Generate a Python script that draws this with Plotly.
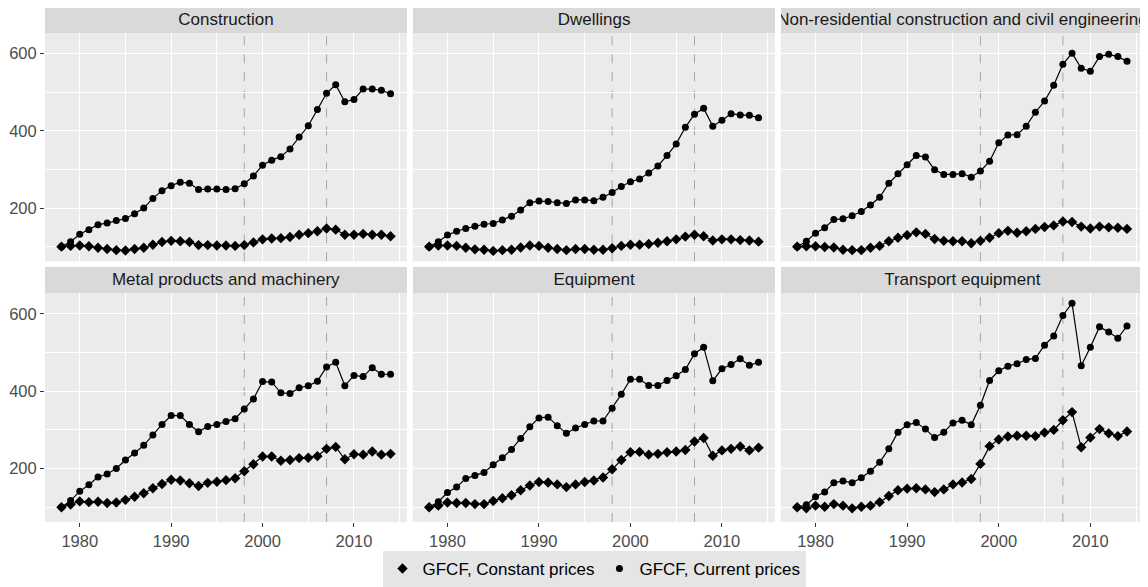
import plotly.graph_objects as go

years = list(range(1978, 2015))
panel_titles = [
    "Construction",
    "Dwellings",
    "Non-residential construction and civil engineering",
    "Metal products and machinery",
    "Equipment",
    "Transport equipment",
]

construction_current = [100, 113, 132, 144, 157, 161, 168, 173, 185, 200, 225, 245, 258, 267, 264, 248, 249, 249, 248, 250,
                        263, 283, 311, 324, 333, 353, 384, 413, 455, 497, 519, 475, 481, 508, 508, 505, 496]
construction_constant = [100, 102, 103, 101, 97, 94, 91, 90, 94, 97, 105, 112, 115, 114, 112, 104, 104, 103, 103, 102,
                         104, 111, 119, 121, 122, 125, 131, 135, 140, 147, 144, 131, 131, 133, 131, 131, 127]

dwellings_current = [100, 113, 130, 140, 147, 153, 158, 160, 169, 179, 195, 214, 218, 217, 214, 212, 221, 221, 219, 228,
                     240, 256, 268, 275, 291, 309, 336, 366, 409, 443, 458, 412, 427, 444, 441, 440, 434]
dwellings_constant = [100, 103, 103, 102, 97, 93, 92, 89, 91, 92, 98, 103, 102, 97, 94, 91, 94, 94, 92, 92,
                      96, 102, 105, 105, 107, 110, 114, 119, 126, 131, 127, 116, 119, 119, 117, 116, 113]

nonres_current = [100, 114, 135, 149, 170, 172, 180, 191, 208, 228, 264, 289, 312, 336, 332, 299, 287, 287, 289, 280,
                  296, 321, 369, 389, 390, 412, 448, 477, 518, 572, 601, 562, 554, 592, 598, 592, 580]
nonres_constant = [100, 101, 101, 99, 98, 92, 91, 91, 97, 102, 114, 123, 130, 137, 133, 120, 115, 114, 114, 109,
                   115, 123, 135, 141, 136, 140, 146, 151, 155, 165, 164, 152, 147, 152, 150, 149, 146]

metal_current = [100, 117, 141, 158, 178, 186, 200, 222, 240, 260, 287, 314, 337, 337, 314, 295, 309, 314, 322, 329,
                 354, 380, 425, 424, 396, 394, 409, 414, 426, 463, 475, 414, 441, 438, 461, 444, 444]
metal_constant = [100, 107, 115, 113, 114, 111, 112, 119, 127, 136, 149, 160, 171, 169, 162, 155, 163, 166, 170, 175,
                  193, 211, 231, 231, 220, 222, 227, 228, 232, 251, 256, 224, 237, 236, 244, 236, 238]

equipment_current = [100, 114, 138, 152, 174, 182, 190, 210, 228, 249, 278, 308, 331, 333, 311, 291, 305, 314, 323, 323,
                     356, 392, 431, 431, 415, 415, 428, 440, 456, 497, 514, 427, 458, 469, 484, 467, 475]
equipment_constant = [100, 104, 112, 111, 111, 108, 108, 116, 123, 131, 144, 156, 165, 164, 159, 152, 159, 165, 169, 177,
                      198, 222, 242, 243, 236, 238, 242, 244, 248, 270, 279, 233, 247, 251, 257, 247, 254]

transport_current = [100, 106, 127, 139, 163, 168, 163, 176, 193, 216, 251, 294, 313, 319, 302, 280, 294, 318, 325, 313,
                     364, 428, 453, 465, 471, 482, 485, 519, 543, 596, 628, 466, 514, 567, 553, 537, 569]
transport_constant = [100, 97, 104, 101, 108, 104, 97, 101, 104, 113, 129, 144, 148, 149, 146, 139, 146, 159, 164, 173,
                      212, 258, 275, 283, 285, 285, 284, 293, 300, 325, 346, 255, 280, 302, 291, 284, 296]

current_series = [construction_current, dwellings_current, nonres_current,
                  metal_current, equipment_current, transport_current]
constant_series = [construction_constant, dwellings_constant, nonres_constant,
                   metal_constant, equipment_constant, transport_constant]

constant_label = "GFCF, Constant prices"
current_label = "GFCF, Current prices"
break_years = [1998, 2007]
x_ticks = [1980, 1990, 2000, 2010]
y_ticks = [200, 400, 600]

# ---- layout geometry (page pixels) ----
PAGE_W, PAGE_H = 1148, 587
OFF = 8  # default body margin of the html page
W, H = PAGE_W - OFF, PAGE_H - OFF


def px_x(p):
    return (p - OFF) / W


def px_y(p):
    return 1 - (p - OFF) / H


col_px = [(45.0, 407.0), (412.7, 775.0), (780.7, 1143.5)]
row_px = [(32.7, 265.8), (297.7, 530.9)]
strip_h = 25.7
x_range = [1976.2, 2015.8]
y_range = [62, 655]

FONT = "Liberation Sans, Arial, Helvetica, sans-serif"

fig = go.Figure()
layout_axes = {}
shapes = []
annotations = []

for i in range(6):
    r, c = divmod(i, 3)
    n = i + 1
    xa = "x" if n == 1 else f"x{n}"
    ya = "y" if n == 1 else f"y{n}"
    x0, x1 = col_px[c]
    top, bot = row_px[r]

    layout_axes["xaxis" if n == 1 else f"xaxis{n}"] = dict(
        domain=[px_x(x0), px_x(x1)], range=x_range, anchor=ya,
        tickmode="array", tickvals=x_ticks,
        showgrid=True, gridcolor="white", gridwidth=1.1,
        minor=dict(dtick=5, tick0=1975, showgrid=True, gridcolor="white", gridwidth=0.5, ticks=""),
        zeroline=False, showline=False,
        showticklabels=(r == 1), ticks=("outside" if r == 1 else ""),
        ticklen=4, tickwidth=1, tickcolor="#333333",
        tickfont=dict(family=FONT, size=16.5, color="#4d4d4d"),
        fixedrange=True,
    )
    layout_axes["yaxis" if n == 1 else f"yaxis{n}"] = dict(
        domain=[px_y(bot), px_y(top)], range=y_range, anchor=xa,
        tickmode="array", tickvals=y_ticks,
        showgrid=True, gridcolor="white", gridwidth=1.1,
        minor=dict(dtick=100, tick0=0, showgrid=True, gridcolor="white", gridwidth=0.5, ticks=""),
        zeroline=False, showline=False,
        showticklabels=(c == 0), ticks=("outside" if c == 0 else ""),
        ticklen=4, tickwidth=1, tickcolor="#333333",
        tickfont=dict(family=FONT, size=16.5, color="#4d4d4d"),
        fixedrange=True,
    )

    # lines
    for series in (constant_series[i], current_series[i]):
        fig.add_trace(go.Scatter(
            x=years, y=series, xaxis=xa, yaxis=ya, mode="lines",
            line=dict(color="black", width=1.2), showlegend=False, hoverinfo="skip",
        ))
    # markers
    fig.add_trace(go.Scatter(
        x=years, y=constant_series[i], xaxis=xa, yaxis=ya, mode="markers",
        marker=dict(symbol="diamond", size=8, color="black"),
        name=constant_label, legendgroup="const", showlegend=(i == 0),
    ))
    fig.add_trace(go.Scatter(
        x=years, y=current_series[i], xaxis=xa, yaxis=ya, mode="markers",
        marker=dict(symbol="circle", size=7, color="black"),
        name=current_label, legendgroup="curr", showlegend=(i == 0),
    ))

    for by in break_years:
        shapes.append(dict(
            type="line", xref=xa, yref=f"{ya} domain", x0=by, x1=by, y0=0, y1=1,
            line=dict(color="#a6a6a6", width=1, dash="dash"), layer="below",
        ))

    # facet strip
    annotations.append(dict(
        xref="paper", yref="paper",
        x=px_x((x0 + x1) / 2), y=px_y(top - strip_h / 2),
        xanchor="center", yanchor="middle",
        text=panel_titles[i], showarrow=False,
        width=x1 - x0, height=strip_h, borderpad=0, borderwidth=0,
        bgcolor="#d9d9d9", align="center", valign="middle",
        font=dict(family=FONT, size=17, color="#1a1a1a"),
    ))

fig.update_layout(
    width=W, height=H,
    margin=dict(l=0, r=0, t=0, b=0),
    paper_bgcolor="white", plot_bgcolor="#ebebeb",
    font=dict(family=FONT, size=17, color="#1a1a1a"),
    shapes=shapes, annotations=annotations,
    showlegend=True,
    legend=dict(
        orientation="h", x=px_x(594), xanchor="center", y=px_y(561), yanchor="top",
        bgcolor="#e5e5e5", font=dict(family=FONT, size=17, color="black"),
        itemsizing="trace", tracegroupgap=0, itemwidth=30,
    ),
    **layout_axes,
)

fig.write_html("out.html")
